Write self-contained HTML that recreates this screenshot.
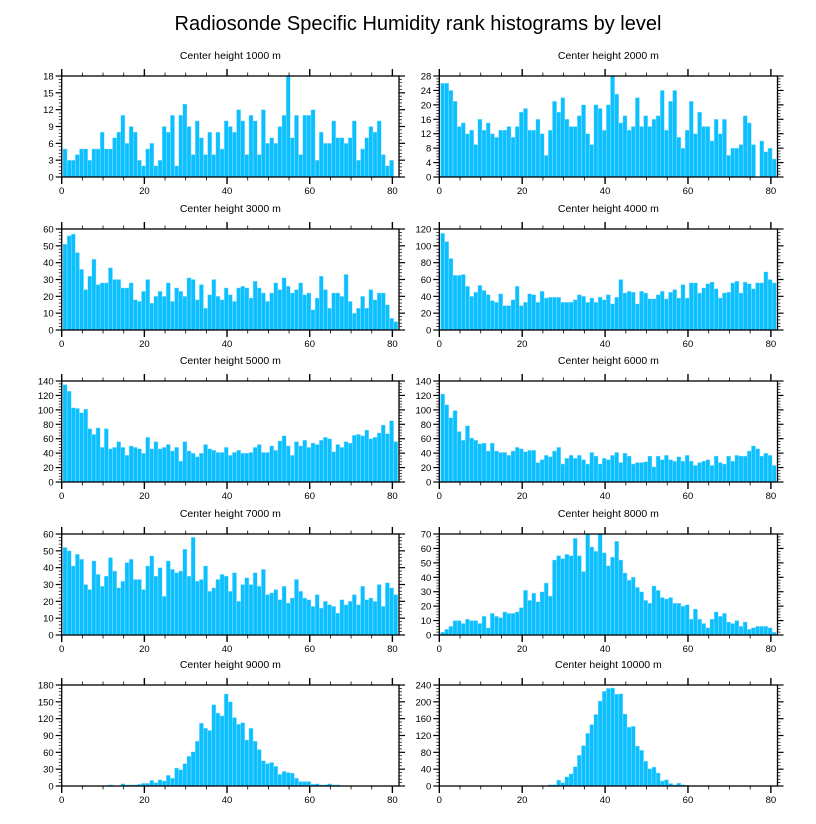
<!DOCTYPE html>
<html><head><meta charset="utf-8"><style>
html,body{margin:0;padding:0;background:#fff;}
svg{display:block;font-family:"Liberation Sans",sans-serif;}
</style></head><body>
<svg id="chart" width="816" height="824" viewBox="0 0 816 824" xmlns="http://www.w3.org/2000/svg">
<text x="418" y="30" text-anchor="middle" font-size="20">Radiosonde Specific Humidity rank histograms by level</text>
</svg>
<script>
const titles = ["Center height 1000 m","Center height 2000 m","Center height 3000 m","Center height 4000 m","Center height 5000 m","Center height 6000 m","Center height 7000 m","Center height 8000 m","Center height 9000 m","Center height 10000 m"];
const yMaxes = [18,28,60,120,140,140,60,70,180,240];
const yStepMajor = [3,4,10,20,20,20,10,10,30,40];
const xTicks = [0,20,40,60,80];
const h1000 = [5,3,3,4,5,5,3,5,5,8,5,5,7,8,11,6,9,8,3,2,5,6,2,3,9,8,11,2,11,13,9,4,10,7,4,8,4,8,5,10,9,8,12,10,4,11,10,4,12,6,7,6,9,11,18,7,11,4,11,11,12,3,8,6,6,10,7,7,6,7,10,3,5,7,9,8,10,4,2,3];
const h2000 = [26,26,24,21,14,15,12,13,9,16,13,15,12,11,13,13,14,11,14,18,19,13,13,16,12,6,13,21,18,22,16,14,14,17,20,12,9,20,19,13,20,28,23,15,17,13,14,22,14,17,14,16,17,24,13,21,24,11,8,13,21,12,18,14,14,10,16,12,16,6,8,8,9,17,15,9,0,10,7,8,5];
const h3000 = [51,56,57,46,36,24,32,42,27,28,28,37,30,30,25,25,28,18,17,23,30,16,20,23,20,28,17,25,23,20,31,30,18,27,13,21,30,20,18,25,21,17,25,26,25,19,29,25,22,17,22,28,24,31,26,22,24,28,21,22,12,19,32,24,13,22,22,20,33,17,10,13,20,13,24,18,22,22,15,7,5];
const h4000 = [115,105,85,65,65,66,52,40,45,53,47,42,35,33,43,29,29,36,52,29,33,43,42,33,46,38,39,39,39,33,33,33,36,42,40,33,38,33,39,36,42,31,39,60,44,46,45,31,46,44,37,37,42,46,37,45,48,38,54,38,56,56,44,50,55,57,49,38,44,45,56,58,44,57,55,49,56,56,69,60,56];
const h5000 = [135,126,103,102,96,101,74,66,75,48,74,46,48,56,48,37,50,48,46,40,62,46,56,46,48,52,43,48,29,56,43,40,35,40,52,46,44,41,41,48,37,41,44,40,40,41,48,52,41,41,50,44,57,64,50,37,56,50,58,48,54,52,58,62,60,42,52,48,56,54,65,66,64,72,60,62,68,79,67,85,56];
const h6000 = [122,107,89,99,70,58,78,61,58,53,54,43,54,43,41,41,37,43,48,46,42,44,44,27,31,37,35,43,48,25,33,37,33,37,31,25,41,36,25,33,31,37,41,27,40,36,25,27,27,28,36,21,36,31,37,31,29,35,29,37,29,23,27,29,31,23,36,27,25,36,29,37,36,36,43,50,46,36,40,37,23];
const h7000 = [52,50,41,48,45,30,27,44,36,29,35,46,38,28,32,43,45,33,33,27,41,47,35,40,23,44,39,37,38,51,35,58,32,33,41,26,28,33,36,35,26,37,20,30,34,30,37,29,39,24,25,27,21,29,19,22,33,26,22,21,17,24,16,20,18,17,13,21,18,20,24,18,29,21,22,20,30,17,31,28,24];
const h8000 = [2,4,6,10,10,8,11,10,10,8,13,5,15,13,12,16,15,15,16,19,31,24,29,23,30,36,27,52,55,53,56,55,67,55,44,70,61,58,70,57,48,54,65,52,43,38,40,33,30,24,22,34,31,26,25,26,22,22,20,21,11,18,11,8,5,11,16,13,15,9,8,10,6,9,4,5,6,6,6,5,2];
const h9000 = [0,0,0,0,0,0,0,0,0,0,0,2,0,0,4,2,2,2,3,5,5,10,6,11,9,19,14,32,29,40,53,61,80,112,103,99,145,130,125,164,150,122,110,113,82,103,80,65,45,40,42,35,21,26,24,23,14,8,8,8,3,4,2,2,4,2,2,0,0,0,0,0,0,0,0,0,0,0,0,0,0];
const h10000 = [0,0,0,0,0,0,0,0,0,0,0,0,0,0,0,0,0,0,0,0,0,0,0,0,0,0,3,3,14,8,22,29,46,73,96,125,146,170,202,225,232,233,218,219,171,140,142,95,85,59,41,45,31,12,15,6,3,7,3,2,1,0,0,1,0,0,0,0,0,0,0,0,0,0,0,0,0,0,0,0,0];
const seriesList = [h1000,h2000,h3000,h4000,h5000,h6000,h7000,h8000,h9000,h10000];

const NS = "http://www.w3.org/2000/svg";
const svg = document.getElementById("chart");
function mk(tag, attrs, parent){ const e=document.createElementNS(NS,tag); for(const k in attrs) e.setAttribute(k,attrs[k]); (parent||svg).appendChild(e); return e; }

const tops = [76,229,381,534,685];
const PH = 101;
const lefts = [61.7, 439.3];
const rights = [399, 777.5];
const XMAX = 81.6;

seriesList.forEach((vals, p) => {
  const col = p % 2, row = Math.floor(p/2);
  const L = lefts[col], R = rights[col], T = tops[row], B = T + PH;
  const sc = (R - L) / XMAX;
  const xs = v => L + v * sc;
  const ymax = yMaxes[p];
  const ys = v => B - v / ymax * PH;
  const g = mk("g", {});
  
  
  const t = mk("text", {x:(L+R)/2, y:T-17, "text-anchor":"middle", "font-size":"10.5"}, g);
  t.textContent = titles[p];
  
  
  vals.forEach((v, i) => {
    if (v <= 0) return;
    const x0 = xs(i + 0.3), x1 = xs(i + 1.3);
    const r = mk("rect", {x:x0, y:ys(v), width:x1-x0, height:B-ys(v), fill:"#0cbfff", stroke:"#a8e6ff", "stroke-width":"0.4"}, g);
    
    
  });
  const frame = mk("rect", {x:L, y:T, width:R-L, height:PH, fill:"none", stroke:"#000", "stroke-width":"1.3"}, g);
  
  
  // x ticks
  for (let v = 0; v <= 80; v += 5) {
    const major = v % 20 === 0;
    const len = major ? 7 : 3.5;
    const x = xs(v);
    mk("line", {x1:x, y1:B, x2:x, y2:B+len, stroke:"#000", "stroke-width": major?1.4:0.8}, g);
    mk("line", {x1:x, y1:T, x2:x, y2:T-len, stroke:"#000", "stroke-width": major?1.4:0.8}, g);
  }
  xTicks.forEach(v => {
    const tx = mk("text", {x:xs(v), y:B+17, "text-anchor":"middle", "font-size":"9.5"}, g);
    tx.textContent = v;
    
    
  });
  // y ticks
  const st = yStepMajor[p];
  const minor = st / 5;
  for (let k = 0; k <= Math.round(ymax / minor); k++) {
    const v = k * minor;
    const y = ys(v);
    const major = k % 5 === 0;
    const len = major ? 6 : 3;
    mk("line", {x1:L, y1:y, x2:L-len, y2:y, stroke:"#000", "stroke-width": major?1.2:0.7}, g);
    mk("line", {x1:R, y1:y, x2:R+len, y2:y, stroke:"#000", "stroke-width": major?1.2:0.7}, g);
    if (major) {
      const ty = mk("text", {x:L-8, y:y+3.5, "text-anchor":"end", "font-size":"9.5"}, g);
      ty.textContent = Math.round(v);
      
      
    }
  }
});
</script>
</body></html>
